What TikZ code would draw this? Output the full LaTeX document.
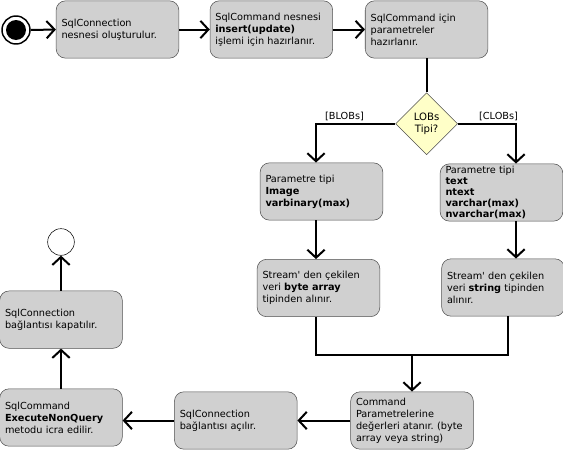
\documentclass[tikz,border=0pt]{standalone}
\usepackage{fontspec}
\newfontfamily\diafont{DejaVu Sans}
\usepackage{tikz}
\usetikzlibrary{positioning}
\usetikzlibrary{calc,arrows.meta,shapes.geometric}
\definecolor{actfill}{HTML}{D0D0D0}
\definecolor{actdraw}{HTML}{505050}
\definecolor{decfill}{HTML}{FFFFC8}
\frenchspacing

\begin{document}
\begin{tikzpicture}[x=0.75pt,y=-0.75pt,
actnode/.style={rectangle, rounded corners=7pt, draw=actdraw, fill=actfill, thin, text width=84pt, inner xsep=4pt, inner ysep=1pt, minimum height=43pt, align=left, font=\diafont\fontsize{7.3}{9}\selectfont},
decnode/.style={diamond, draw=actdraw, fill=decfill, thin, minimum width=46.5pt, minimum height=46.5pt, inner sep=0pt, align=center, font=\diafont\fontsize{7.6}{9}\selectfont},
startnode/.style={circle, draw=black, line width=1.1pt, minimum size=21pt, inner sep=0pt, path picture={\fill[black] (path picture bounding box.center) circle (7.5pt);}},
endnode/.style={circle, draw=black, thin, fill=white, minimum size=20pt, inner sep=0pt},
flow/.style={line width=1.5pt, -{Straight Barb[length=6pt,width=13pt]}},
joint/.style={line width=1.5pt},
label/.style={font=\diafont\fontsize{7.3}{9}\selectfont, inner sep=1.5pt},
]
\useasboundingbox (0,0) rectangle (563,450);
%Nodes
\node[startnode]    (start)     at (16,30)              {};
\node[actnode]      (create)    at (117.5,29.5)         {SqlConnection\\nesnesi oluşturulur.};
\node[actnode]      (prepare)   [right=23pt of create]  {SqlCommand nesnesi\\\textbf{insert(update)}\\işlemi için hazırlanır.};
\node[actnode]      (params)    [right=24pt of prepare] {SqlCommand için\\parametreler\\hazırlanır.};
\node[decnode]      (lobs)      [below=25.5pt of params] {LOBs\\Tipi?};
\node[actnode]      (blobtype)  at (321.5,191.5)        {Parametre tipi\\\textbf{Image}\\\textbf{varbinary(max)}};
\node[actnode, font=\diafont\fontsize{7.3}{8.25}\selectfont] (clobtype) at (501.5,192.5) {Parametre tipi\\\textbf{text}\\\textbf{ntext}\\\textbf{varchar(max)}\\\textbf{nvarchar(max)}};
\node[actnode]      (blobstream) at (318.5,288)         {Stream' den çekilen\\veri \textbf{byte array}\\tipinden alınır.};
\node[actnode]      (clobstream) at (503,287.5)         {Stream' den çekilen\\veri \textbf{string} tipinden\\alınır.};
\node[actnode]      (assign)    at (412,420.5)          {Command\\Parametrelerine\\değerleri atanır. (byte\\array veya string)};
\node[actnode]      (open)      [left=39.75pt of assign] {SqlConnection\\bağlantısı açılır.};
\node[actnode]      (execute)   at (61,417.5)           {SqlCommand\\\textbf{ExecuteNonQuery}\\metodu icra edilir.};
\node[actnode]      (close)     [above=30pt of execute] {SqlConnection\\bağlantısı kapatılır.};
\node[endnode]      (end)       at (61,242)             {};

%Lanes
\coordinate (bloblane) at (316,0);
\coordinate (cloblane) at (516,0);
\coordinate (mergeL) at (316,355);
\coordinate (mergeR) at (508,355);
\coordinate (merge) at (412,355);

%Lines
\draw[flow] (start.east) -- (create.west);
\draw[flow] (create.east) -- (prepare.west);
\draw[flow] (prepare.east) -- (params.west);
\draw[joint] (params.south) -- (lobs.north);
\draw[flow] (lobs.west) -| node[label, pos=0.32, above] {[BLOBs]} (bloblane |- blobtype.north);
\draw[flow] (lobs.east) -| node[label, pos=0.35, above] {[CLOBs]} (cloblane |- clobtype.north);
\draw[flow] (bloblane |- blobtype.south) -- (bloblane |- blobstream.north);
\draw[flow] (cloblane |- clobtype.south) -- (cloblane |- clobstream.north);
\draw[joint] (mergeL |- blobstream.south) -- (mergeL) -- (mergeR) -- (mergeR |- clobstream.south);
\draw[flow] (merge) -- (merge |- assign.north);
\draw[flow] (assign.west) -- (open.east);
\draw[flow] (open.west) -- (open.west -| execute.east);
\draw[flow] (execute.north) -- (close.south);
\draw[flow] (close.north) -- (end.south);
\end{tikzpicture}
\end{document}
